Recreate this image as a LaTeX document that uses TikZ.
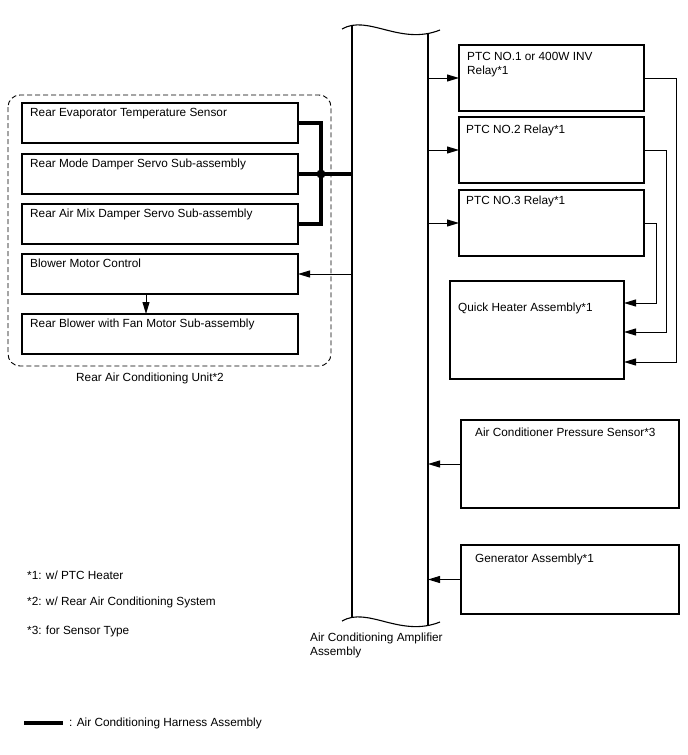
\documentclass[tikz,border=0pt]{standalone}
\usepackage{fontspec}
\setmainfont{Liberation Sans}
\usetikzlibrary{arrows.meta,positioning}

\begin{document}
\begin{tikzpicture}[x=1pt,y=-1pt,
  node distance=10pt,
  box/.style={draw,line width=1.6pt,anchor=north west,inner sep=0pt,outer sep=0pt},
  lbox/.style={box,minimum width=276pt,minimum height=40pt},
  txt/.style={anchor=north west,inner sep=0pt,align=left,font=\fontsize{11.8}{14}\selectfont},
  arrow/.style={-{Triangle[length=12pt,width=7pt]},line width=1pt},
  harness/.style={line width=3.4pt},
  amp/.style={line width=1.5pt},
  unit/.style={dash pattern=on 5pt off 3pt,rounded corners=12pt,line width=0.9pt}]
\useasboundingbox (0,0) rectangle (688,755);

% rear air conditioning unit
\node[lbox](evap) at (22,103){};
\node[lbox,below=11pt of evap](mode){};
\node[lbox,below=of mode](mix){};
\node[lbox,below=of mix](blower){};
\node[lbox,below=20pt of blower](fan){};
\node[txt](evaptxt) at ([shift={(8pt,-5pt)}]evap.north west){Rear Evaporator Temperature Sensor};
\node[txt](modetxt) at ([shift={(8pt,-5pt)}]mode.north west){Rear Mode Damper Servo Sub-assembly};
\node[txt](mixtxt) at ([shift={(8pt,-5pt)}]mix.north west){Rear Air Mix Damper Servo Sub-assembly};
\node[txt](blowertxt) at ([shift={(8pt,-5pt)}]blower.north west){Blower Motor Control};
\node[txt](fantxt) at ([shift={(8pt,-5pt)}]fan.north west){Rear Blower with Fan Motor Sub-assembly};
\draw[unit] (8,95) rectangle (331,366);
\node[txt](unittxt) at (76,373){Rear Air Conditioning Unit*2};

% amplifier
\coordinate (ampL) at (352,0);
\coordinate (ampR) at (428,0);
\draw[amp] (352,25) -- (352,617);
\draw[amp] (428,34) -- (428,626);
\draw[line width=1.1pt] (342,29) .. controls (368,14) and (400,46) .. (440,30);
\draw[line width=1.1pt] (342,621) .. controls (368,606) and (400,638) .. (440,622);
\node[txt](amptxt) at (310,633){Air Conditioning Amplifier\\Assembly};

% relays and heater
\node[box,minimum width=185pt,minimum height=66pt](ptc1) at (459,45){};
\node[box,minimum width=185pt,minimum height=66pt,below=6pt of ptc1](ptc2){};
\node[box,minimum width=185pt,minimum height=66pt,below=7pt of ptc2](ptc3){};
\node[box,minimum width=174pt,minimum height=98pt](qh) at (450,281){};
\node[txt](ptc1txt) at ([shift={(8pt,-7pt)}]ptc1.north west){PTC NO.1 or 400W INV\\Relay*1};
\node[txt](ptc2txt) at ([shift={(7pt,-8pt)}]ptc2.north west){PTC NO.2 Relay*1};
\node[txt](ptc3txt) at ([shift={(7pt,-6pt)}]ptc3.north west){PTC NO.3 Relay*1};
\node[txt](qhtxt) at ([shift={(8pt,-22pt)}]qh.north west){Quick Heater Assembly*1};

% sensors
\node[box,minimum width=218pt,minimum height=88pt](pres) at (461,420){};
\node[box,minimum width=218pt,minimum height=69pt,below=37pt of pres](gen){};
\node[txt](prestxt) at ([shift={(14pt,-8pt)}]pres.north west){Air Conditioner Pressure Sensor*3};
\node[txt](gentxt) at ([shift={(14pt,-9pt)}]gen.north west){Generator Assembly*1};

% harness
\coordinate (junc) at ([xshift=23pt]mode.east);
\draw[harness] (evap.east) -| (junc) |- (mix.east);
\draw[harness] (mode.east) -- (mode.east -| ampL);
\fill (junc) circle (4.5pt);

% signal lines
\draw[arrow] (blower.east -| ampL) -- (blower.east);
\draw[arrow] ([xshift=-14pt]blower.south) -- ([xshift=-14pt]fan.north);
\draw[arrow] (ptc1.west -| ampR) -- (ptc1.west);
\draw[arrow] (ptc2.west -| ampR) -- (ptc2.west);
\draw[arrow] (ptc3.west -| ampR) -- (ptc3.west);
\draw[arrow] (ptc1.east) -- ++(32,0) |- ([yshift=17pt]qh.south east);
\draw[arrow] (ptc2.east) -- ++(22,0) |- ([yshift=-2pt]qh.east);
\draw[arrow] (ptc3.east) -- ++(12,0) |- ([yshift=-22pt]qh.north east);
\draw[arrow] (pres.west) -- (pres.west -| ampR);
\draw[arrow] (gen.west) -- (gen.west -| ampR);

% notes
\node[txt](note1) at (27,571){*1: w/ PTC Heater};
\node[txt](note2) at (27,597){*2: w/ Rear Air Conditioning System};
\node[txt](note3) at (27,626){*3: for Sensor Type};
\coordinate (legA) at (24,723);
\coordinate (legB) at (63,723);
\draw[harness] (legA) -- (legB);
\node[txt](legtxt) at (69,718){: Air Conditioning Harness Assembly};
\end{tikzpicture}
\end{document}
